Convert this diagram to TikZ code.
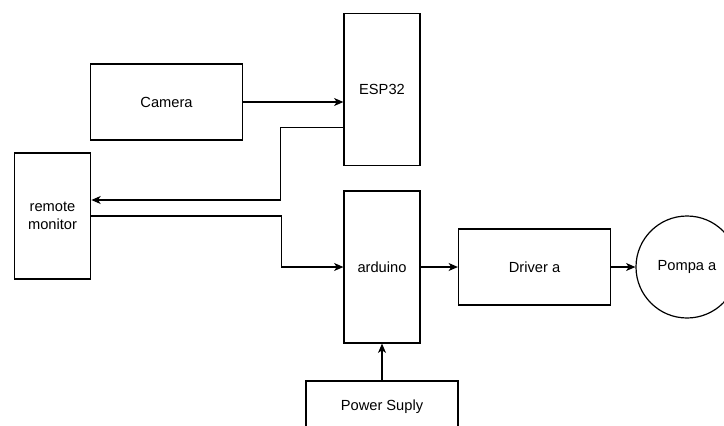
\documentclass[tikz,border=0pt]{standalone}
\usepackage{fontspec}
\setmainfont{Liberation Sans}
\usetikzlibrary{arrows.meta,calc}
\begin{document}
\begin{tikzpicture}[x=0.75pt,y=-0.75pt,
  blk/.style={draw=black,line width=0.9pt,fill=white,inner sep=0pt,align=center,
    font=\fontsize{11}{13.5}\selectfont},
  arr/.style={draw=black,line width=0.9pt,-{Stealth[length=7pt,width=6pt,inset=2pt]}},
  ]
\useasboundingbox (0,0) rectangle (724,425);
\clip (0,0) rectangle (724,425);
\fill[white] (0,0) rectangle (724,425);
\node[blk,minimum width=114pt,minimum height=57pt] (cam) at (166.5,102) {Camera};
\node[blk,minimum width=57pt,minimum height=114pt] (esp) at (382,89.5) {ESP32};
\node[blk,minimum width=57.4pt,minimum height=94.5pt] (rm) at (52.5,216) {remote\\monitor};
\node[blk,minimum width=57pt,minimum height=114pt] (ard) at (382,267) {arduino};
\node[blk,minimum width=114pt,minimum height=57pt] (drv) at (534.5,267) {Driver a};
\node[blk,circle,minimum size=76.5pt] (pompa) at (687,267) {Pompa a};
\node[blk,minimum width=114pt,minimum height=57pt] (pw) at (382,419) {};
\node[font=\fontsize{11}{13.5}\selectfont] (pwt) at (382,406.5) {Power Suply};
\draw[arr] (cam.east) -- (cam.east -| esp.west);
\draw[arr] ($(esp.west)+(0,38)$) -- ++(-63,0) |- ($(rm.east)+(0,-16)$);
\draw[arr] (rm.east) -- ++(190.25,0) |- (ard.west);
\draw[arr] (ard.east) -- (drv.west);
\draw[arr] (drv.east) -- (pompa.west);
\draw[arr] (pw.north) -- (ard.south);
\end{tikzpicture}
\end{document}
